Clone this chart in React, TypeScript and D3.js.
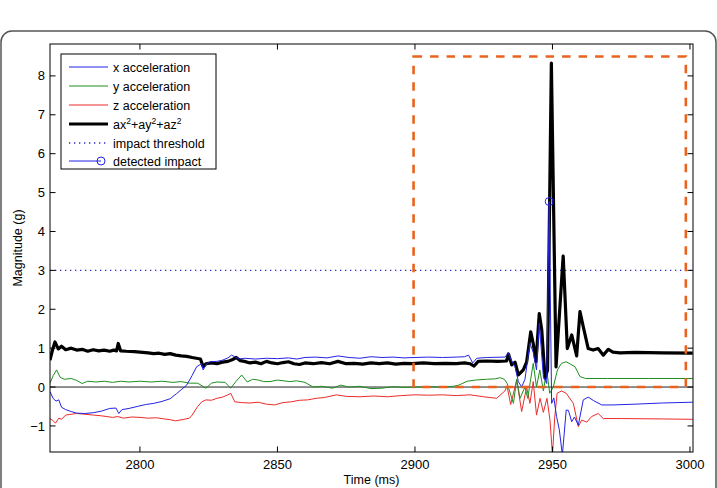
import React from "react";
import * as d3 from "d3";

// Accelerometer traces around an impact event: [time (ms), value (g)]
const xAccel: [number, number][] = [
  [2767.3, -0.12], [2768.5, -0.3], [2769.5, -0.36], [2770.5, -0.33], [2771.5, -0.52], [2773, -0.58],
  [2775, -0.63], [2777, -0.67], [2780, -0.68], [2783, -0.66], [2786, -0.62], [2789, -0.55],
  [2791.3, -0.54], [2792.3, -0.68], [2793.5, -0.58], [2796, -0.55], [2799, -0.5], [2802, -0.45],
  [2805, -0.42], [2808, -0.37], [2811, -0.3], [2813.3, -0.17], [2815, -0.07], [2817, 0.05],
  [2819, 0.3], [2820.6, 0.52], [2822.4, 0.6], [2823, 0.44], [2824, 0.58], [2825.5, 0.65],
  [2828, 0.66], [2830, 0.69], [2832, 0.75], [2833.3, 0.82], [2834.5, 0.78], [2836, 0.72],
  [2838, 0.74], [2842, 0.72], [2846, 0.74], [2850, 0.73], [2854, 0.75], [2857, 0.72],
  [2860, 0.76], [2864, 0.77], [2868, 0.75], [2872, 0.8], [2876, 0.76], [2880, 0.74],
  [2884, 0.78], [2888, 0.76], [2892, 0.77], [2896, 0.75], [2900, 0.76], [2905, 0.77],
  [2910, 0.76], [2915, 0.77], [2918, 0.78], [2919.5, 0.82], [2921, 0.62], [2922.5, 0.74],
  [2926, 0.76], [2932.7, 0.77], [2934, 0.88], [2935, 0.7], [2936.4, 0.52], [2937.6, 0.14],
  [2938.8, 0.0], [2940, 0.2], [2941.8, 1.12], [2943, 0.9], [2944.2, 0.44], [2945.2, 1.64],
  [2946.7, 0.27], [2947.9, 0.09], [2948.8, 4.77], [2949.7, -0.42], [2950.5, -0.28],
  [2951.5, -0.76], [2952.5, -1.1], [2953.6, -1.75], [2955, -0.59], [2955.8, -0.6],
  [2957, -0.89], [2958, -0.77], [2959.4, -0.98], [2961.2, -0.33], [2963, -0.26], [2965, -0.35],
  [2967.9, -0.46], [2972, -0.46], [2980, -0.44], [2990, -0.41], [3001, -0.39],
];

const yAccel: [number, number][] = [
  [2767.3, 0.1], [2768.5, 0.3], [2769.7, 0.44], [2771, 0.25], [2772.5, 0.2], [2775, 0.22],
  [2777, 0.17], [2779, 0.09], [2781, 0.15], [2784, 0.13], [2787, 0.15], [2790, 0.12],
  [2793, 0.15], [2796, 0.13], [2800, 0.15], [2804, 0.13], [2808, 0.15], [2812, 0.12],
  [2815, 0.14], [2818, 0.1], [2821, 0.1], [2824, -0.03], [2826, 0.1], [2828, 0.13],
  [2831, 0.12], [2833, -0.03], [2835, 0.15], [2837, 0.31], [2839, 0.13], [2841, 0.2],
  [2843, 0.18], [2845, 0.14], [2847.3, 0.14], [2850, 0.18], [2854.5, 0.14], [2857, 0.16],
  [2860, 0.12], [2863, 0.0], [2866, 0.02], [2870, -0.03], [2873, 0.05], [2876, 0.0],
  [2880, 0.02], [2884, -0.04], [2888, -0.03], [2892, 0.01], [2896, -0.01], [2900, 0.0],
  [2905, 0.01], [2910, 0.0], [2914, 0.02], [2916, 0.05], [2919, 0.15], [2922, 0.18],
  [2926, 0.2], [2929, 0.21], [2931, 0.24], [2932.5, 0.2], [2933.5, 0.1], [2935.8, -0.42],
  [2937, 0.2], [2938.2, -0.29], [2940, 0.0], [2941, -0.29], [2943, 0.61], [2944.2, 0.0],
  [2945.4, 0.44], [2946.7, -0.1], [2947.9, 0.44], [2949, -0.16], [2950.3, 0.0], [2951.8, 0.44],
  [2953.3, 0.61], [2955, 0.65], [2958.2, 0.52], [2960, 0.27], [2962, 0.22], [2970, 0.22],
  [2985, 0.22], [3001, 0.22],
];

const zAccel: [number, number][] = [
  [2767.3, -0.82], [2768.2, -0.85], [2769.3, -0.93], [2770.5, -0.8], [2771.5, -0.83], [2773, -0.72],
  [2775, -0.7], [2777, -0.68], [2780, -0.7], [2783, -0.72], [2786, -0.74], [2788, -0.76],
  [2790, -0.78], [2792, -0.76], [2794, -0.8], [2797, -0.77], [2800, -0.78], [2803, -0.8],
  [2806, -0.79], [2809, -0.82], [2811, -0.84], [2813, -0.87], [2816, -0.83], [2818, -0.8],
  [2819, -0.72], [2821, -0.5], [2822.5, -0.38], [2824, -0.33], [2826, -0.34], [2828, -0.29],
  [2830, -0.26], [2832, -0.2], [2833, -0.16], [2834.5, -0.38], [2837, -0.4], [2840, -0.41],
  [2843, -0.39], [2846, -0.44], [2849, -0.46], [2852, -0.4], [2855, -0.38], [2858, -0.34],
  [2861, -0.33], [2864, -0.29], [2867, -0.27], [2871.5, -0.2], [2875, -0.24], [2880, -0.25],
  [2885, -0.23], [2890, -0.25], [2895, -0.22], [2900, -0.2], [2905, -0.21], [2910, -0.2],
  [2915, -0.22], [2920, -0.2], [2925, -0.25], [2929.7, -0.29], [2932.7, -0.1], [2933.5, 0.02],
  [2934.8, -0.45], [2937, 0.18], [2938.8, -0.63], [2940.6, 0.0], [2941.8, -0.42], [2943, 0.14],
  [2944.2, -0.72], [2945.5, -0.29], [2946.7, -0.65], [2948, -0.29], [2949.1, -0.85],
  [2950, -1.75], [2950.8, -0.8], [2951.7, -0.16], [2953.3, -0.1], [2955, -0.16],
  [2957.6, -0.42], [2959.4, -1.02], [2960.6, -0.85], [2962.5, -0.9], [2964.2, -0.76],
  [2966.6, -0.68], [2968.5, -0.81], [2975, -0.81], [2990, -0.82], [3001, -0.83],
];

const magnitude: [number, number][] = [
  [2767.3, 0.69], [2768.2, 0.95], [2769.1, 1.16], [2770.3, 0.98], [2771.5, 1.05], [2773, 0.96],
  [2775, 1.0], [2777, 0.95], [2779, 0.97], [2781, 0.92], [2783, 0.96], [2785, 0.93],
  [2787, 0.95], [2789, 0.92], [2790.5, 0.95], [2791.5, 0.93], [2792.1, 1.12], [2793, 0.93],
  [2795, 0.92], [2798, 0.91], [2800, 0.9], [2803, 0.88], [2805, 0.86], [2807, 0.87],
  [2809, 0.84], [2811, 0.86], [2813, 0.82], [2815, 0.8], [2817, 0.79], [2819, 0.76],
  [2820.5, 0.74], [2822, 0.72], [2823, 0.52], [2824, 0.6], [2826, 0.62], [2828, 0.6],
  [2830, 0.64], [2832, 0.66], [2833.5, 0.7], [2835, 0.76], [2836.5, 0.68], [2838, 0.66],
  [2840, 0.62], [2842, 0.64], [2844, 0.6], [2846, 0.66], [2848, 0.62], [2850, 0.6],
  [2852, 0.63], [2854, 0.65], [2856, 0.6], [2858, 0.58], [2860, 0.62], [2863, 0.6],
  [2866, 0.63], [2869, 0.6], [2872, 0.66], [2875, 0.6], [2878, 0.61], [2881, 0.59],
  [2884, 0.62], [2887, 0.6], [2890, 0.62], [2893, 0.59], [2896, 0.61], [2899, 0.6],
  [2903, 0.62], [2907, 0.6], [2911, 0.61], [2915, 0.6], [2918, 0.62], [2920, 0.6],
  [2921.5, 0.54], [2923, 0.66], [2926, 0.67], [2930, 0.66], [2933.3, 0.67], [2934, 0.85],
  [2935.2, 0.57], [2936.4, 0.64], [2937.6, 0.31], [2939.4, 0.44], [2940.6, 0.64],
  [2942.1, 1.42], [2943, 1.12], [2944, 0.65], [2945.2, 1.89], [2946.1, 1.47], [2947.3, 0.23],
  [2948.2, 0.44], [2949.6, 8.33], [2951.3, 0.52], [2953.9, 3.37], [2955.4, 0.99],
  [2957, 1.34], [2958.8, 0.8], [2960, 1.94], [2961.2, 1.55], [2963, 0.99], [2964.8, 0.95],
  [2966.6, 0.99], [2968.5, 0.82], [2970.3, 0.97], [2972, 0.9], [2974.5, 0.88], [2980, 0.89],
  [2990, 0.88], [3001, 0.87],
];

const impactThreshold = 3;
const detectedImpact: [number, number] = [2948.8, 4.77];
const impactWindow = { t0: 2899.5, t1: 2998.5, v0: 0, v1: 8.5 };

const timeTicks = [2800, 2850, 2900, 2950, 3000];
const magTicks = [-1, 0, 1, 2, 3, 4, 5, 6, 7, 8];
const legendLabels = ["x acceleration", "y acceleration", "z acceleration", "", "impact threshold", "detected impact"];

const FONT = "Liberation Sans, Arial, Helvetica, sans-serif";
const BLUE = "#2323e6";
const GREEN = "#1f8f1f";
const RED = "#ec2b2b";

export default function App() {
  const left = 50, right = 693, top = 44, bottom = 452;
  const x = d3.scaleLinear().domain([2767.3, 3001.1]).range([left, right]);
  const y = d3.scaleLinear().domain([-1.67, 8.82]).range([bottom, top]);
  const line = d3.line<[number, number]>().x((d) => x(d[0])).y((d) => y(d[1]));
  const tickLen = 5.5;

  const legendY = [67, 86, 105, 124, 143, 161];
  const lx0 = 69, lx1 = 108, ltx = 113;

  return (
    <svg width={717} height={488} style={{ position: "absolute", left: 0, top: 0, background: "#fff" }}
      fontFamily={FONT}>
      <rect x={0} y={0} width={717} height={488} fill="#fff" />
      <rect x={1} y={31} width={715} height={480} rx={11} ry={11} fill="none" stroke="#555" strokeWidth={1.5} />
      <defs>
        <clipPath id="plotArea">
          <rect x={left} y={top} width={right - left} height={bottom - top} />
        </clipPath>
      </defs>

      <g clipPath="url(#plotArea)">
        <line x1={left} x2={right} y1={y(0)} y2={y(0)} stroke="#222" strokeWidth={1} />
        <line x1={left} x2={right} y1={y(impactThreshold)} y2={y(impactThreshold)} stroke="#2b2bc8"
          strokeWidth={1.3} strokeDasharray="1.3,3.7" />
        <path d={line(zAccel) || ""} fill="none" stroke={RED} strokeWidth={1} />
        <path d={line(yAccel) || ""} fill="none" stroke={GREEN} strokeWidth={1} />
        <path d={line(magnitude) || ""} fill="none" stroke="#000" strokeWidth={3.2} strokeLinejoin="round" />
        <path d={line(xAccel) || ""} fill="none" stroke={BLUE} strokeWidth={1} />
        <circle cx={x(detectedImpact[0])} cy={y(detectedImpact[1])} r={4} fill="none" stroke={BLUE} strokeWidth={1} />
        <rect x={x(impactWindow.t0)} y={y(impactWindow.v1)} width={x(impactWindow.t1) - x(impactWindow.t0)}
          height={y(impactWindow.v0) - y(impactWindow.v1)} fill="none" stroke="#e8641e" strokeWidth={2.6}
          strokeDasharray="8.5,8" />
      </g>

      {/* axes box and ticks */}
      <rect x={left} y={top} width={right - left} height={bottom - top} fill="none" stroke="#000" strokeWidth={1} />
      {timeTicks.map((t) => (
        <g key={"t" + t}>
          <line x1={x(t)} x2={x(t)} y1={bottom} y2={bottom - tickLen} stroke="#000" />
          <line x1={x(t)} x2={x(t)} y1={top} y2={top + tickLen} stroke="#000" />
          <text x={x(t)} y={468.5} fontSize={13} textAnchor="middle">{t}</text>
        </g>
      ))}
      {magTicks.map((v) => (
        <g key={"m" + v}>
          <line x1={left} x2={left + tickLen} y1={y(v)} y2={y(v)} stroke="#000" />
          <line x1={right} x2={right - tickLen} y1={y(v)} y2={y(v)} stroke="#000" />
          <text x={45} y={y(v) + 4.6} fontSize={13} textAnchor="end">{v < 0 ? "\u2212" + Math.abs(v) : v}</text>
        </g>
      ))}
      <text x={(left + right) / 2} y={484} fontSize={12.5} textAnchor="middle">Time (ms)</text>
      <text transform={`translate(22,${(top + bottom) / 2}) rotate(-90)`} fontSize={12.5} textAnchor="middle">Magnitude (g)</text>

      {/* legend */}
      <rect x={61} y={54} width={155} height={115} fill="#fff" stroke="#000" strokeWidth={1} />
      <line x1={lx0} x2={lx1} y1={legendY[0]} y2={legendY[0]} stroke={BLUE} strokeWidth={1} />
      <line x1={lx0} x2={lx1} y1={legendY[1]} y2={legendY[1]} stroke={GREEN} strokeWidth={1} />
      <line x1={lx0} x2={lx1} y1={legendY[2]} y2={legendY[2]} stroke={RED} strokeWidth={1} />
      <line x1={lx0} x2={lx1} y1={legendY[3]} y2={legendY[3]} stroke="#000" strokeWidth={3.2} />
      <line x1={lx0} x2={lx1} y1={legendY[4]} y2={legendY[4]} stroke="#2b2bc8" strokeWidth={1.3} strokeDasharray="1.3,3.7" />
      <line x1={lx0} x2={101} y1={legendY[5]} y2={legendY[5]} stroke={BLUE} strokeWidth={1} />
      <circle cx={101} cy={legendY[5]} r={4} fill="none" stroke={BLUE} strokeWidth={1} />
      {legendLabels.map((s, i) =>
        i === 3 ? (
          <text key={i} x={ltx} y={legendY[i] + 4.5} fontSize={12.5}>
            ax<tspan dy={-5} fontSize={8.5}>2</tspan><tspan dy={5}>+ay</tspan>
            <tspan dy={-5} fontSize={8.5}>2</tspan><tspan dy={5}>+az</tspan>
            <tspan dy={-5} fontSize={8.5}>2</tspan>
          </text>
        ) : (
          <text key={i} x={ltx} y={legendY[i] + 4.5} fontSize={12.5}>{s}</text>
        )
      )}
    </svg>
  );
}
